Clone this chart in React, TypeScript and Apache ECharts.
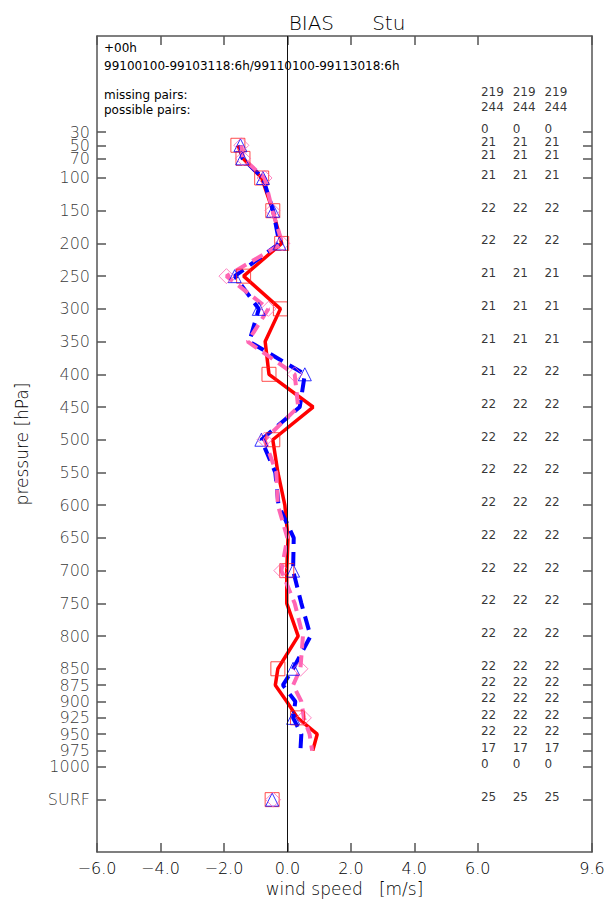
import React, { useEffect, useRef } from "react";
import * as echarts from "echarts";

// ---- data ----
const levels = [50, 70, 100, 150, 200, 250, 300, 350, 400, 450, 500, 550, 600, 650, 700, 750, 800, 850, 875, 900, 925, 950, 975];
const redBias = [-1.56, -1.4, -0.81, -0.46, -0.18, -1.38, -0.22, -0.7, -0.58, 0.81, -0.46, -0.3, -0.08, 0.02, -0.02, -0.02, 0.34, -0.3, -0.38, -0.02, 0.32, 0.94, 0.8];
const blueBias = [-1.48, -1.42, -0.77, -0.45, -0.25, -1.66, -0.9, -1.2, 0.55, 0.39, -0.82, -0.38, -0.28, 0.2, 0.18, 0.44, 0.73, 0.18, -0.14, 0.25, 0.18, 0.44, 0.41];
const pinkBias = [-1.45, -1.4, -0.72, -0.47, -0.16, -1.92, -0.6, -1.25, 0.23, 0.34, -0.72, -0.35, -0.3, 0.0, -0.19, 0.23, 0.49, 0.41, 0.18, 0.44, 0.52, 0.7, 0.78];
const markerLevels = [50, 70, 100, 150, 200, 250, 300, 400, 500, 700, 850, 925];
const SURF_P = 1050;
const surfRed = -0.48;
const surfBlue = -0.48;
const surfPink = -0.45;

const tickLevels = [30, 50, 70, 100, 150, 200, 250, 300, 350, 400, 450, 500, 550, 600, 650, 700, 750, 800, 850, 875, 900, 925, 950, 975, 1000, 1050];
const tickLabels = ["30", "50", "70", "100", "150", "200", "250", "300", "350", "400", "450", "500", "550", "600", "650", "700", "750", "800", "850", "875", "900", "925", "950", "975", "1000", "SURF"];
const xTicks = [-6, -4, -2, 0, 2, 4, 6, 9.6];

const countsCol1 = [0, 21, 21, 21, 22, 22, 21, 21, 21, 21, 22, 22, 22, 22, 22, 22, 22, 22, 22, 22, 22, 22, 22, 17, 0, 25];
const countsCol2 = [0, 21, 21, 21, 22, 22, 21, 21, 21, 22, 22, 22, 22, 22, 22, 22, 22, 22, 22, 22, 22, 22, 22, 17, 0, 25];
const countsCol3 = [0, 21, 21, 21, 22, 22, 21, 21, 21, 22, 22, 22, 22, 22, 22, 22, 22, 22, 22, 22, 22, 22, 22, 17, 0, 25];
const missingPairs = [219, 219, 219];
const possiblePairs = [244, 244, 244];
const MISSING_ROW = -27;
const POSSIBLE_ROW = -4;
const countColX = [6.1, 7.1, 8.1];

const FONT = "DejaVu Sans";
const AXIS_COLOR = "#555";
const TEXT_COLOR = "#000";

export default function App() {
  const ref = useRef<HTMLDivElement>(null);
  useEffect(() => {
    if (!ref.current) return;
    const chart = echarts.init(ref.current, undefined, { renderer: "svg" });
    const fmtX = (v: number) => (v < 0 ? "\u2212" + Math.abs(v).toFixed(1) : v.toFixed(1));

    const yMin = -117;
    const yMax = 1130;

    const baseY = {
      type: "value",
      inverse: true,
      min: yMin,
      max: yMax,
      splitLine: { show: false },
      axisLabel: { show: false },
      axisLine: { show: true, onZero: false, lineStyle: { color: AXIS_COLOR, width: 1.5 } },
      axisTick: { show: true, inside: true, length: 9, customValues: tickLevels, lineStyle: { color: AXIS_COLOR, width: 1.5 } },
    };
    const baseX = {
      type: "value",
      min: -6,
      max: 9.6,
      splitLine: { show: false },
      axisLine: { show: true, onZero: false, lineStyle: { color: AXIS_COLOR, width: 1.5 } },
      axisTick: { show: true, inside: true, length: 9, customValues: xTicks, lineStyle: { color: AXIS_COLOR, width: 1.5 } },
    };

    const countSeries = [countsCol1, countsCol2, countsCol3].map((col, j) => ({
      type: "scatter",
      symbolSize: 0,
      silent: true,
      clip: false,
      z: 5,
      data: [
        [countColX[j], MISSING_ROW, missingPairs[j]],
        [countColX[j], POSSIBLE_ROW, possiblePairs[j]],
        ...tickLevels.map((p, i) => [countColX[j], p, col[i]]),
      ],
      label: {
        show: true,
        position: "right",
        distance: 0,
        offset: [0, -3],
        formatter: (p: any) => String(p.value[2]),
        fontFamily: FONT,
        fontSize: 12,
        color: "#000",
      },
    }));

    const markerData = (arr: number[], surf: number) => [
      ...levels.map((p, i) => [arr[i], p]).filter((d) => markerLevels.includes(d[1])),
      [surf, SURF_P],
    ];

    chart.setOption({
      animation: false,
      backgroundColor: "#fff",
      textStyle: { fontFamily: FONT },
      title: {
        text: "BIAS      Stu",
        left: 342,
        textAlign: "center",
        top: 8,
        textStyle: { fontFamily: FONT, fontSize: 20, fontWeight: 200, color: TEXT_COLOR },
      },
      grid: { left: 97, right: 16, top: 36, bottom: 51, containLabel: false },
      xAxis: [
        {
          ...baseX,
          position: "bottom",
          name: "wind speed   [m/s]",
          nameLocation: "middle",
          nameGap: 27,
          nameTextStyle: { fontFamily: FONT, fontSize: 17, fontWeight: 200, color: TEXT_COLOR },
          axisLabel: { show: true, customValues: xTicks, formatter: fmtX, fontFamily: FONT, fontSize: 16, fontWeight: 200, color: TEXT_COLOR, margin: 8 },
        },
        { ...baseX, position: "top", axisLabel: { show: false } },
      ],
      yAxis: [
        {
          ...baseY,
          position: "left",
          name: "pressure [hPa]",
          nameLocation: "middle",
          nameRotate: 90,
          nameGap: 67,
          nameTextStyle: { fontFamily: FONT, fontSize: 17, fontWeight: 200, color: TEXT_COLOR },
        },
        { ...baseY, position: "right" },
      ],
      graphic: [
        { type: "text", left: 104, top: 42, style: { text: "+00h", font: `12px "${FONT}"`, fill: "#000" } },
        { type: "text", left: 104, top: 60, style: { text: "99100100-99103118:6h/99110100-99113018:6h", font: `12px "${FONT}"`, fill: "#000" } },
        { type: "text", left: 104, top: 89, style: { text: "missing pairs:", font: `12px "${FONT}"`, fill: "#000" } },
        { type: "text", left: 104, top: 104, style: { text: "possible pairs:", font: `12px "${FONT}"`, fill: "#000" } },
      ],
      series: [
        {
          type: "line",
          name: "red",
          data: levels.map((p, i) => [redBias[i], p]),
          symbol: "none",
          z: 3,
          lineStyle: { color: "#ff0000", width: 3.5 },
          markLine: {
            silent: true,
            symbol: "none",
            label: { show: false },
            lineStyle: { color: "#111", width: 1, type: "solid" },
            data: [{ xAxis: 0 }],
          },
        },
        {
          type: "line",
          name: "blue",
          data: levels.map((p, i) => [blueBias[i], p]),
          symbol: "none",
          z: 3,
          lineStyle: { color: "#0000ff", width: 4, type: [14, 8] },
        },
        {
          type: "line",
          name: "pink",
          data: levels.map((p, i) => [pinkBias[i], p]),
          symbol: "none",
          z: 3,
          lineStyle: { color: "#ff66b4", width: 4, type: [12, 7] },
        },
        {
          type: "scatter",
          data: markerData(redBias, surfRed),
          symbol: "rect",
          symbolSize: 14,
          z: 4,
          itemStyle: { color: "rgba(0,0,0,0)", borderColor: "#ff2020", borderWidth: 1 },
        },
        {
          type: "scatter",
          data: markerData(blueBias, surfBlue),
          symbol: "triangle",
          symbolSize: 13,
          z: 4,
          itemStyle: { color: "rgba(0,0,0,0)", borderColor: "#0000ff", borderWidth: 1 },
        },
        {
          type: "scatter",
          data: markerData(pinkBias, surfPink),
          symbol: "diamond",
          symbolSize: 15,
          z: 4,
          itemStyle: { color: "rgba(0,0,0,0)", borderColor: "#ff66b4", borderWidth: 1 },
        },
        {
          type: "scatter",
          name: "levelLabels",
          symbolSize: 0,
          silent: true,
          clip: false,
          data: tickLevels.map((p, i) => [-6, p, tickLabels[i]]),
          label: {
            show: true,
            position: "left",
            distance: 7,
            formatter: (p: any) => String(p.value[2]),
            fontFamily: FONT,
            fontSize: 16,
            fontWeight: 200,
            color: TEXT_COLOR,
          },
        },
        ...countSeries,
      ],
    });
    return () => chart.dispose();
  }, []);
  return <div ref={ref} style={{ position: "absolute", left: 0, top: 0, width: 608, height: 903 }} />;
}
